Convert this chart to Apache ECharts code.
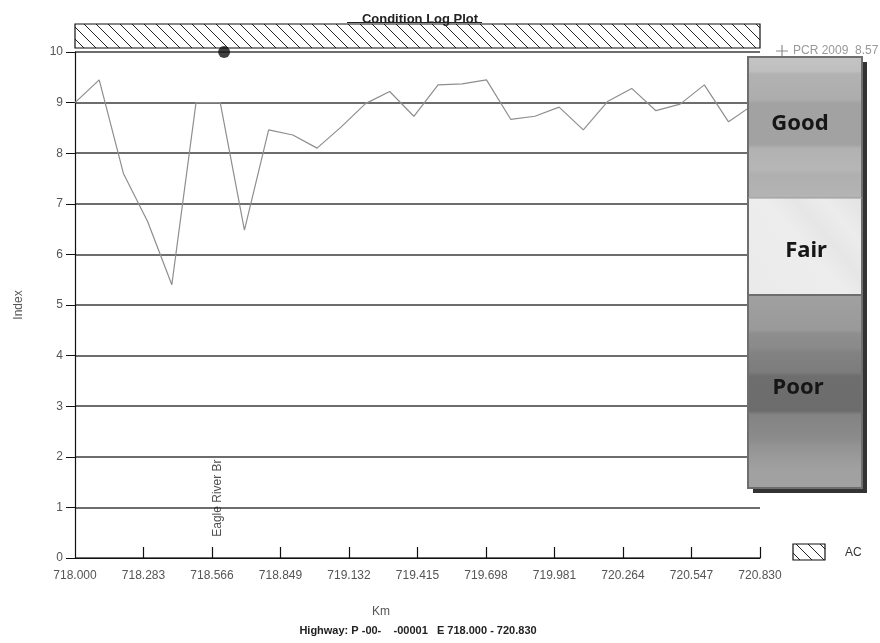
<!DOCTYPE html>
<html>
<head>
<meta charset="utf-8">
<script src="https://cdn.jsdelivr.net/npm/echarts@6/dist/echarts.min.js"></script>
<style>html,body{margin:0;padding:0;background:#fff}#chart{width:880px;height:643px}</style>
</head>
<body>
<div id="chart"></div>
<script>
// ---- data ----
const kmPositions = [718.0, 718.1, 718.2, 718.3, 718.4, 718.5, 718.6, 718.7, 718.8, 718.9,
  719.0, 719.1, 719.2, 719.3, 719.4, 719.5, 719.6, 719.7, 719.8, 719.9,
  720.0, 720.1, 720.2, 720.3, 720.4, 720.5, 720.6, 720.7, 720.8, 720.83];
const pcrValues = [9.0, 9.45, 7.6, 6.65, 5.4, 9.0, 9.0, 6.48, 8.46, 8.36,
  8.1, 8.52, 8.98, 9.22, 8.73, 9.35, 9.37, 9.45, 8.67, 8.73,
  8.91, 8.46, 9.02, 9.28, 8.84, 8.97, 9.35, 8.62, 8.95, 9.0];
const kmTickLabels = [718.000, 718.283, 718.566, 718.849, 719.132, 719.415, 719.698, 719.981, 720.264, 720.547, 720.830];
const pcrSeriesName = 'PCR 2009';
const pcrAverage = '8.57';
const markerPoints = [[718.616, 10]];
const featureNames = ['Eagle River Br'];
const featurePositions = [718.59];
const pavementSegments = [[718.0, 720.83, 'AC']];
const conditionBands = ['Good', 'Fair', 'Poor'];

// ---- hatch pattern ----
function makeHatch() {
  const c = document.createElement('canvas');
  c.width = 12; c.height = 12;
  const g = c.getContext('2d');
  g.fillStyle = '#fff'; g.fillRect(0, 0, 12, 12);
  g.strokeStyle = '#222'; g.lineWidth = 1;
  g.beginPath();
  g.moveTo(0, 0); g.lineTo(12, 12);
  g.moveTo(-2, 10); g.lineTo(2, 14);
  g.moveTo(10, -2); g.lineTo(14, 2);
  g.stroke();
  return c;
}
const hatch = makeHatch();

const chart = echarts.init(document.getElementById('chart'));
const font = 'Liberation Sans, Arial, sans-serif';

const pcrData = kmPositions.map((k, i) => [k, pcrValues[i]]);
const featureData = featurePositions.map((k, i) => [k, 0.42, featureNames[i]]);

const boxX = 748, boxY = 57, boxW = 114, boxH = 431;
const goodY = 57, fairY = 198, poorY = 295, endY = 488;

const option = {
  animation: false,
  textStyle: { fontFamily: font },
  title: {
    text: 'Condition Log Plot',
    left: 415, top: 8, textAlign: 'center',
    textStyle: { fontSize: 13, fontWeight: 'bold', color: '#222', fontFamily: font }
  },
  legend: {
    data: [pcrSeriesName],
    left: 771, top: 40,
    icon: 'path://M4.5,0H5.5V4.5H10V5.5H5.5V10H4.5V5.5H0V4.5H4.5Z',
    itemWidth: 12, itemHeight: 12, itemGap: 4,
    selectedMode: false,
    formatter: n => n + '  ' + pcrAverage,
    textStyle: { color: '#999', fontSize: 12, fontFamily: font }
  },
  grid: [
    { left: 75, right: 120, top: 52, bottom: 85 },
    { left: 75, right: 120, top: 24, height: 24 }
  ],
  xAxis: [
    {
      type: 'value', gridIndex: 0, min: 718, max: 720.83,
      axisLine: { lineStyle: { color: '#111', width: 1.2 } },
      axisTick: { inside: true, length: 11, lineStyle: { color: '#111', width: 1.2 }, customValues: kmTickLabels.slice(1) },
      axisLabel: { customValues: kmTickLabels, formatter: v => Number(v).toFixed(3), color: '#555', fontSize: 12, margin: 12 },
      splitLine: { show: false }
    },
    { type: 'value', gridIndex: 1, min: 718, max: 720.83, show: false }
  ],
  yAxis: [
    {
      type: 'value', gridIndex: 0, min: 0, max: 10, interval: 1,
      name: 'Index', nameLocation: 'middle', nameGap: 50,
      nameTextStyle: { color: '#555', fontSize: 12 },
      axisLine: { show: true, lineStyle: { color: '#111', width: 1.2 } },
      axisTick: { show: true, length: 9, lineStyle: { color: '#111' } },
      axisLabel: { color: '#555', fontSize: 12, margin: 12 },
      splitLine: { show: true, lineStyle: { color: '#3c3c3c', width: 1.6 } }
    },
    { type: 'value', gridIndex: 1, min: 0, max: 1, show: false }
  ],
  series: [
    {
      name: pcrSeriesName, type: 'line', xAxisIndex: 0, yAxisIndex: 0,
      data: pcrData, showSymbol: false, symbol: 'none',
      lineStyle: { color: '#8e8e8e', width: 1.2 }, itemStyle: { color: '#8e8e8e' }, z: 3
    },
    {
      name: 'Marker', type: 'scatter', data: markerPoints, symbolSize: 12,
      itemStyle: { color: '#111' }, clip: false, z: 5
    },
    {
      name: 'Feature', type: 'scatter', data: featureData, symbolSize: 2,
      itemStyle: { color: 'rgba(0,0,0,0)' },
      label: {
        show: true, position: 'inside', rotate: 90, align: 'left', verticalAlign: 'middle',
        formatter: p => p.data[2], color: '#222', fontSize: 12, fontFamily: font
      }, z: 4
    },
    {
      name: 'AC', type: 'custom', xAxisIndex: 1, yAxisIndex: 1,
      data: pavementSegments,
      renderItem: (params, api) => {
        const s = api.coord([api.value(0), 1]);
        const e = api.coord([api.value(1), 0]);
        return {
          type: 'rect',
          shape: { x: s[0], y: s[1], width: e[0] - s[0], height: e[1] - s[1] },
          style: { fill: { image: hatch, repeat: 'repeat' }, stroke: '#111', lineWidth: 1.2 }
        };
      }
    }
  ],
  graphic: [
    // title underline
    { type: 'line', shape: { x1: 347, y1: 22.5, x2: 482, y2: 22.5 }, style: { stroke: '#222', lineWidth: 1 }, z: 10 },
    // condition box shadow
    { type: 'rect', shape: { x: boxX + 5, y: boxY + 5, width: boxW, height: boxH }, style: { fill: '#333' }, z: 20 },
    // Good
    { type: 'rect', shape: { x: boxX, y: goodY, width: boxW, height: fairY - goodY },
      style: { fill: new echarts.graphic.LinearGradient(0, 0, 0, 1, [
        { offset: 0, color: '#c4c4c4' }, { offset: 0.1, color: '#bfbfbf' },
        { offset: 0.12, color: '#b2b2b2' }, { offset: 0.3, color: '#adadad' },
        { offset: 0.33, color: '#a2a2a2' }, { offset: 0.62, color: '#a2a2a2' },
        { offset: 0.65, color: '#b2b2b2' }, { offset: 0.8, color: '#b6b6b6' },
        { offset: 0.83, color: '#afafaf' }, { offset: 1, color: '#b4b4b4' }]) }, z: 21 },
    // Fair
    { type: 'rect', shape: { x: boxX, y: fairY, width: boxW, height: poorY - fairY },
      style: { fill: new echarts.graphic.LinearGradient(1, 0, 0, 1, [
        { offset: 0, color: '#e2e2e2' }, { offset: 0.2, color: '#ececec' },
        { offset: 0.35, color: '#e6e6e6' }, { offset: 0.5, color: '#ededed' },
        { offset: 1, color: '#eaeaea' }]) }, z: 21 },
    // Poor
    { type: 'rect', shape: { x: boxX, y: poorY, width: boxW, height: endY - poorY },
      style: { fill: new echarts.graphic.LinearGradient(0, 0, 0, 1, [
        { offset: 0, color: '#a0a0a0' }, { offset: 0.18, color: '#9a9a9a' },
        { offset: 0.2, color: '#8e8e8e' }, { offset: 0.27, color: '#8a8a8a' },
        { offset: 0.3, color: '#828282' }, { offset: 0.4, color: '#7c7c7c' },
        { offset: 0.42, color: '#6e6e6e' }, { offset: 0.6, color: '#6c6c6c' },
        { offset: 0.62, color: '#838383' }, { offset: 0.75, color: '#8c8c8c' },
        { offset: 0.78, color: '#939393' }, { offset: 0.9, color: '#a0a0a0' },
        { offset: 1, color: '#a2a2a2' }]) }, z: 21 },
    // box border
    { type: 'rect', shape: { x: boxX, y: boxY, width: boxW, height: boxH }, style: { fill: 'none', stroke: '#6e6e6e', lineWidth: 2 }, z: 22 },
    { type: 'line', shape: { x1: boxX, y1: fairY, x2: boxX + boxW, y2: fairY }, style: { stroke: '#9a9a9a', lineWidth: 1 }, z: 22 },
    { type: 'line', shape: { x1: boxX, y1: poorY, x2: boxX + boxW, y2: poorY }, style: { stroke: '#6e6e6e', lineWidth: 2 }, z: 22 },
    // band labels
    { type: 'text', x: 800, y: 124, style: { text: conditionBands[0], fill: '#161616', font: 'bold 22px "Noto Sans", sans-serif', align: 'center', verticalAlign: 'middle' }, z: 23 },
    { type: 'text', x: 806, y: 251, style: { text: conditionBands[1], fill: '#161616', font: 'bold 22px "Noto Sans", sans-serif', align: 'center', verticalAlign: 'middle' }, z: 23 },
    { type: 'text', x: 798, y: 388, style: { text: conditionBands[2], fill: '#161616', font: 'bold 22px "Noto Sans", sans-serif', align: 'center', verticalAlign: 'middle' }, z: 23 },
    // AC legend
    { type: 'rect', shape: { x: 793, y: 544, width: 32, height: 16 }, style: { fill: { image: hatch, repeat: 'repeat' }, stroke: '#111', lineWidth: 1.2 }, z: 10 },
    { type: 'text', x: 845, y: 553, style: { text: pavementSegments[0][2], fill: '#333', font: '12px ' + font, align: 'left', verticalAlign: 'middle' }, z: 10 },
    // Km and highway
    { type: 'text', x: 381, y: 612, style: { text: 'Km', fill: '#555', font: '12px ' + font, align: 'center', verticalAlign: 'middle' }, z: 10 },
    { type: 'text', x: 418, y: 631, style: { text: 'Highway: P -00-    -00001   E 718.000 - 720.830', fill: '#222', font: 'bold 11px ' + font, align: 'center', verticalAlign: 'middle' }, z: 10 }
  ]
};
chart.setOption(option);
</script>
</body>
</html>
